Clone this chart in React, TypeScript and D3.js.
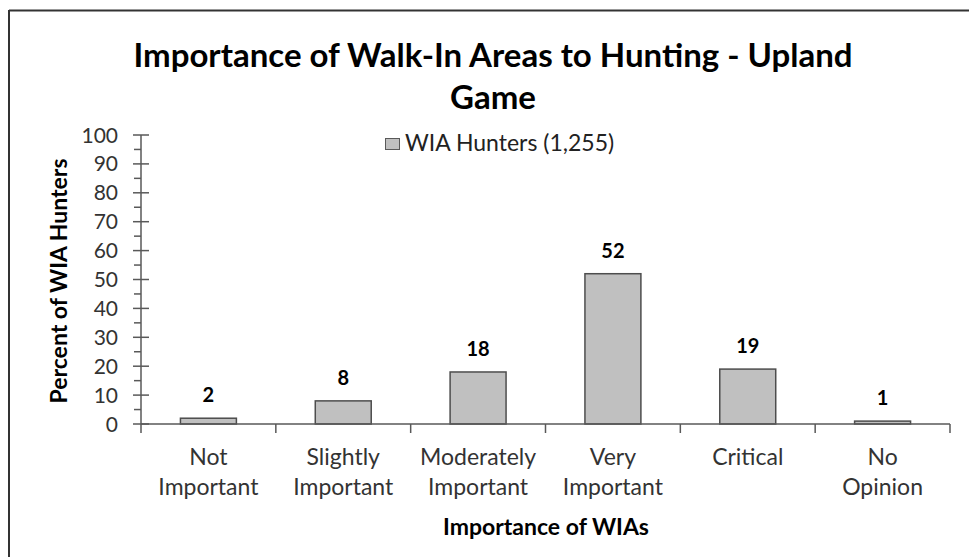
import React from "react";
import * as d3 from "d3";

const categories: string[][] = [
  ["Not", "Important"],
  ["Slightly", "Important"],
  ["Moderately", "Important"],
  ["Very", "Important"],
  ["Critical"],
  ["No", "Opinion"],
];
const values: number[] = [2, 8, 18, 52, 19, 1];
const yTicks: number[] = [0, 10, 20, 30, 40, 50, 60, 70, 80, 90, 100];
const minorTicks: number[] = [5, 15, 25, 35, 45, 55, 65, 75, 85, 95];
const seriesName = "WIA Hunters (1,255)";
const titleLines = ["Importance of Walk-In Areas to Hunting - Upland", "Game"];
const xTitle = "Importance of WIAs";
const yTitle = "Percent of WIA Hunters";

const W = 969;
const H = 557;
const FONT = "Lato, 'Open Sans', sans-serif";

export default function App() {
  const x0 = 141, x1 = 950, yTop = 135, yBot = 424;
  const x = d3.scaleBand<number>().domain(d3.range(values.length)).range([x0, x1]).paddingInner(0.585).paddingOuter(0.2925);
  const y = d3.scaleLinear().domain([0, 100]).range([yBot, yTop]);
  const band = (x1 - x0) / values.length;
  const axisColor = "#595959";

  return (
    <svg width={W} height={H} style={{ position: "absolute", left: 0, top: 0, background: "#fff" }} fontFamily={FONT}>
      <rect x={0} y={0} width={W} height={H} fill="#fff" />
      {/* frame */}
      <line x1={9} x2={W} y1={10.5} y2={10.5} stroke="#333" strokeWidth={2} />
      <line x1={9} x2={9} y1={10} y2={H} stroke="#333" strokeWidth={2} />

      {/* title */}
      {titleLines.map((t, i) => (
        <text key={i} x={493} y={67 + i * 42} textAnchor="middle" fontSize={33} fontWeight={700} fill="#000">
          {t}
        </text>
      ))}

      {/* legend */}
      <rect x={385.5} y={138.5} width={14} height={11} fill="#c0c0c0" stroke="#595959" strokeWidth={1} />
      <text x={405} y={151} fontSize={23} fill="#222">{seriesName}</text>

      {/* y axis */}
      <line x1={x0} x2={x0} y1={yTop} y2={yBot} stroke={axisColor} strokeWidth={1.5} />
      {yTicks.map((t) => (
        <g key={t}>
          <line x1={x0 - 8} x2={x0 + 8} y1={y(t)} y2={y(t)} stroke={axisColor} strokeWidth={1.5} />
          <text x={118} y={y(t) + 7.5} textAnchor="end" fontSize={21} fill="#333">{t}</text>
        </g>
      ))}
      {minorTicks.map((t) => (
        <line key={t} x1={x0 - 7} x2={x0} y1={y(t)} y2={y(t)} stroke={axisColor} strokeWidth={1.5} />
      ))}
      <text transform={`translate(67,281) rotate(-90)`} textAnchor="middle" fontSize={23} fontWeight={700} fill="#000">
        {yTitle}
      </text>

      {/* bars */}
      {values.map((v, i) => (
        <g key={i}>
          <rect x={x(i)!} y={y(v)} width={x.bandwidth()} height={yBot - y(v)} fill="#c0c0c0" stroke="#4d4d4d" strokeWidth={1.5} />
          <text x={x(i)! + x.bandwidth() / 2} y={y(v) - 16} textAnchor="middle" fontSize={20} fontWeight={700} fill="#000">
            {v}
          </text>
        </g>
      ))}

      {/* x axis */}
      <line x1={x0} x2={x1} y1={yBot} y2={yBot} stroke={axisColor} strokeWidth={1.5} />
      {d3.range(values.length + 1).map((i) => (
        <line key={i} x1={x0 + i * band} x2={x0 + i * band} y1={yBot} y2={yBot + 9} stroke={axisColor} strokeWidth={1.5} />
      ))}
      {categories.map((lines, i) => (
        <text key={i} textAnchor="middle" fontSize={23} fill="#333">
          {lines.map((l, j) => (
            <tspan key={j} x={x0 + (i + 0.5) * band} y={465 + j * 30}>{l}</tspan>
          ))}
        </text>
      ))}
      <text x={546} y={535} textAnchor="middle" fontSize={23} fontWeight={700} fill="#000">{xTitle}</text>
    </svg>
  );
}
